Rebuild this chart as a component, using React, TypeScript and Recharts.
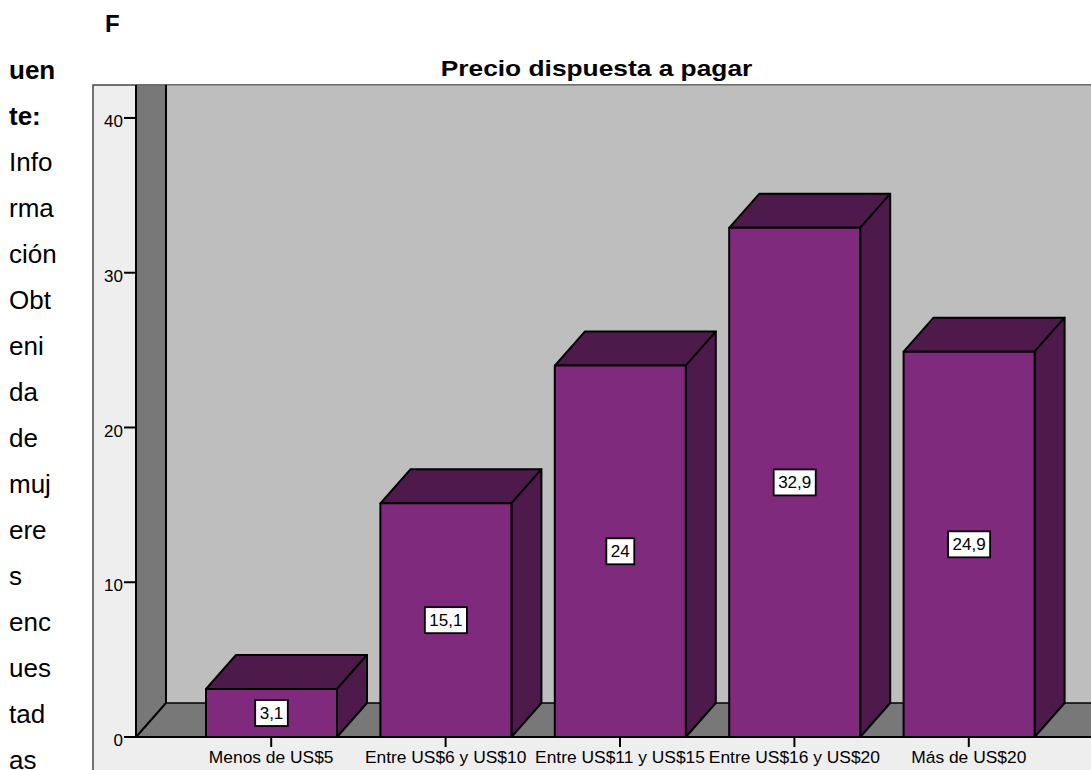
import React from 'react';
import { BarChart, Bar, XAxis, YAxis, LabelList } from 'recharts';

const CATEGORIES = ['Menos de US$5', 'Entre US$6 y US$10', 'Entre US$11 y US$15', 'Entre US$16 y US$20', 'Más de US$20'];
const VALUES = [3.1, 15.1, 24, 32.9, 24.9];
const Y_TICKS = [0, 10, 20, 30, 40];
const SIDE_LINES_BOLD = ['uen', 'te:'];
const SIDE_LINES = ['Info', 'rma', 'ción', 'Obt', 'eni', 'da', 'de', 'muj', 'ere', 's', 'enc', 'ues', 'tad', 'as'];

const chartData = CATEGORIES.map((name, i) => ({ name, value: VALUES[i] }));

const FONT = '"Liberation Sans", Arial, sans-serif';
const W = 1091;
const H = 770;
const PLOT_LEFT = 136;
const PLOT_TOP = 85;
const PLOT_BOTTOM = 737;
const DX = 30;
const DY = 34;
const FRONT = '#7f2a7c';
const SIDE = '#4e1a4c';

function Box3D(props: any) {
  const { x, y, width, height } = props;
  const r = x + width;
  const b = y + height;
  const line = { stroke: '#000', strokeWidth: 2, strokeLinejoin: 'round' as const };
  return (
    <g>
      <polygon points={`${x},${y} ${x + DX},${y - DY} ${r + DX},${y - DY} ${r},${y}`} fill={SIDE} {...line} />
      <polygon points={`${r},${y} ${r + DX},${y - DY} ${r + DX},${b - DY} ${r},${b}`} fill={SIDE} {...line} />
      <rect x={x} y={y} width={width} height={height} fill={FRONT} {...line} />
    </g>
  );
}

function ValueTag(props: any) {
  const { x, y, width, height, value } = props;
  const label = String(value).replace('.', ',');
  // digit and comma widths of the 17px font, plus a little padding
  const w = label.replace(',', '').length * 9.45 + (label.includes(',') ? 4.7 : 0) + 9;
  const cx = x + width / 2;
  const cy = y + height / 2;
  return (
    <g>
      <rect x={cx - w / 2} y={cy - 13} width={w} height={26} fill="#fff" stroke="#000" strokeWidth={1.8} />
      <text x={cx} y={cy + 6} textAnchor="middle" fontSize={17} fontFamily={FONT} fill="#000">{label}</text>
    </g>
  );
}

function Walls() {
  const floorBack = PLOT_BOTTOM - DY;
  const backLeft = PLOT_LEFT + DX;
  return (
    <g>
      <rect x={93} y={PLOT_TOP} width={W} height={H} fill="#eeeeee" stroke="#444" strokeWidth={1.5} />
      <rect x={backLeft} y={PLOT_TOP} width={W - backLeft} height={floorBack - PLOT_TOP} fill="#bebebe" />
      <polygon points={`${PLOT_LEFT},${PLOT_TOP} ${backLeft},${PLOT_TOP} ${backLeft},${floorBack} ${PLOT_LEFT},${PLOT_BOTTOM}`} fill="#787878" />
      <polygon points={`${PLOT_LEFT},${PLOT_BOTTOM} ${backLeft},${floorBack} ${W},${floorBack} ${W},${PLOT_BOTTOM}`} fill="#787878" />
      <line x1={PLOT_LEFT} y1={PLOT_TOP} x2={W} y2={PLOT_TOP} stroke="#666" strokeWidth={1} />
      <line x1={backLeft} y1={PLOT_TOP} x2={backLeft} y2={floorBack} stroke="#000" strokeWidth={2} />
      <line x1={backLeft} y1={floorBack} x2={W} y2={floorBack} stroke="#000" strokeWidth={1.5} />
      <line x1={PLOT_LEFT} y1={PLOT_BOTTOM} x2={backLeft} y2={floorBack} stroke="#000" strokeWidth={2} />
    </g>
  );
}

export default function App() {
  return (
    <div style={{ position: 'absolute', left: 0, top: 0, width: W, height: H, overflow: 'hidden', background: '#fff', fontFamily: FONT }}>
      <div style={{ position: 'absolute', left: 105, top: 10, fontSize: 24, fontWeight: 700, lineHeight: '28px' }}>F</div>
      {[...SIDE_LINES_BOLD, ...SIDE_LINES].map((t, i) => (
        <div
          key={i}
          style={{
            position: 'absolute',
            left: 9,
            top: 60 + i * 46,
            fontSize: 26,
            lineHeight: '20px',
            fontWeight: i < SIDE_LINES_BOLD.length ? 700 : 400,
          }}
        >
          {t}
        </div>
      ))}
      {/* the source picture is stretched sideways, the title shows it most */}
      <div
        style={{
          position: 'absolute',
          left: 341,
          width: 511,
          top: 55,
          textAlign: 'center',
          fontSize: 21.5,
          fontWeight: 700,
          lineHeight: '28px',
          transform: 'scaleX(1.224)',
        }}
      >
        Precio dispuesta a pagar
      </div>
      <div style={{ position: 'absolute', left: 0, top: 0 }}>
        <BarChart
          width={W}
          height={H}
          data={chartData}
          margin={{ top: PLOT_TOP, right: 0, bottom: 0, left: 0 }}
          barSize={131}
        >
          <Walls />
          <XAxis
            dataKey="name"
            interval={0}
            height={H - PLOT_BOTTOM}
            padding={{ left: 48, right: 35 }}
            tickSize={10}
            tickMargin={1}
            tick={{ fontSize: 17.4, fill: '#000', fontFamily: FONT, dy: 3 }}
            axisLine={{ stroke: '#000', strokeWidth: 2 }}
            tickLine={{ stroke: '#000', strokeWidth: 2 }}
          />
          <YAxis
            width={PLOT_LEFT}
            domain={[0, 42.13]}
            ticks={Y_TICKS}
            tickSize={12}
            tickMargin={1}
            tick={{ fontSize: 17, fill: '#000', fontFamily: FONT, dy: 3 }}
            axisLine={{ stroke: '#000', strokeWidth: 2 }}
            tickLine={{ stroke: '#000', strokeWidth: 2 }}
          />
          <Bar dataKey="value" shape={<Box3D />} isAnimationActive={false}>
            <LabelList dataKey="value" content={<ValueTag />} />
          </Bar>
        </BarChart>
      </div>
    </div>
  );
}
